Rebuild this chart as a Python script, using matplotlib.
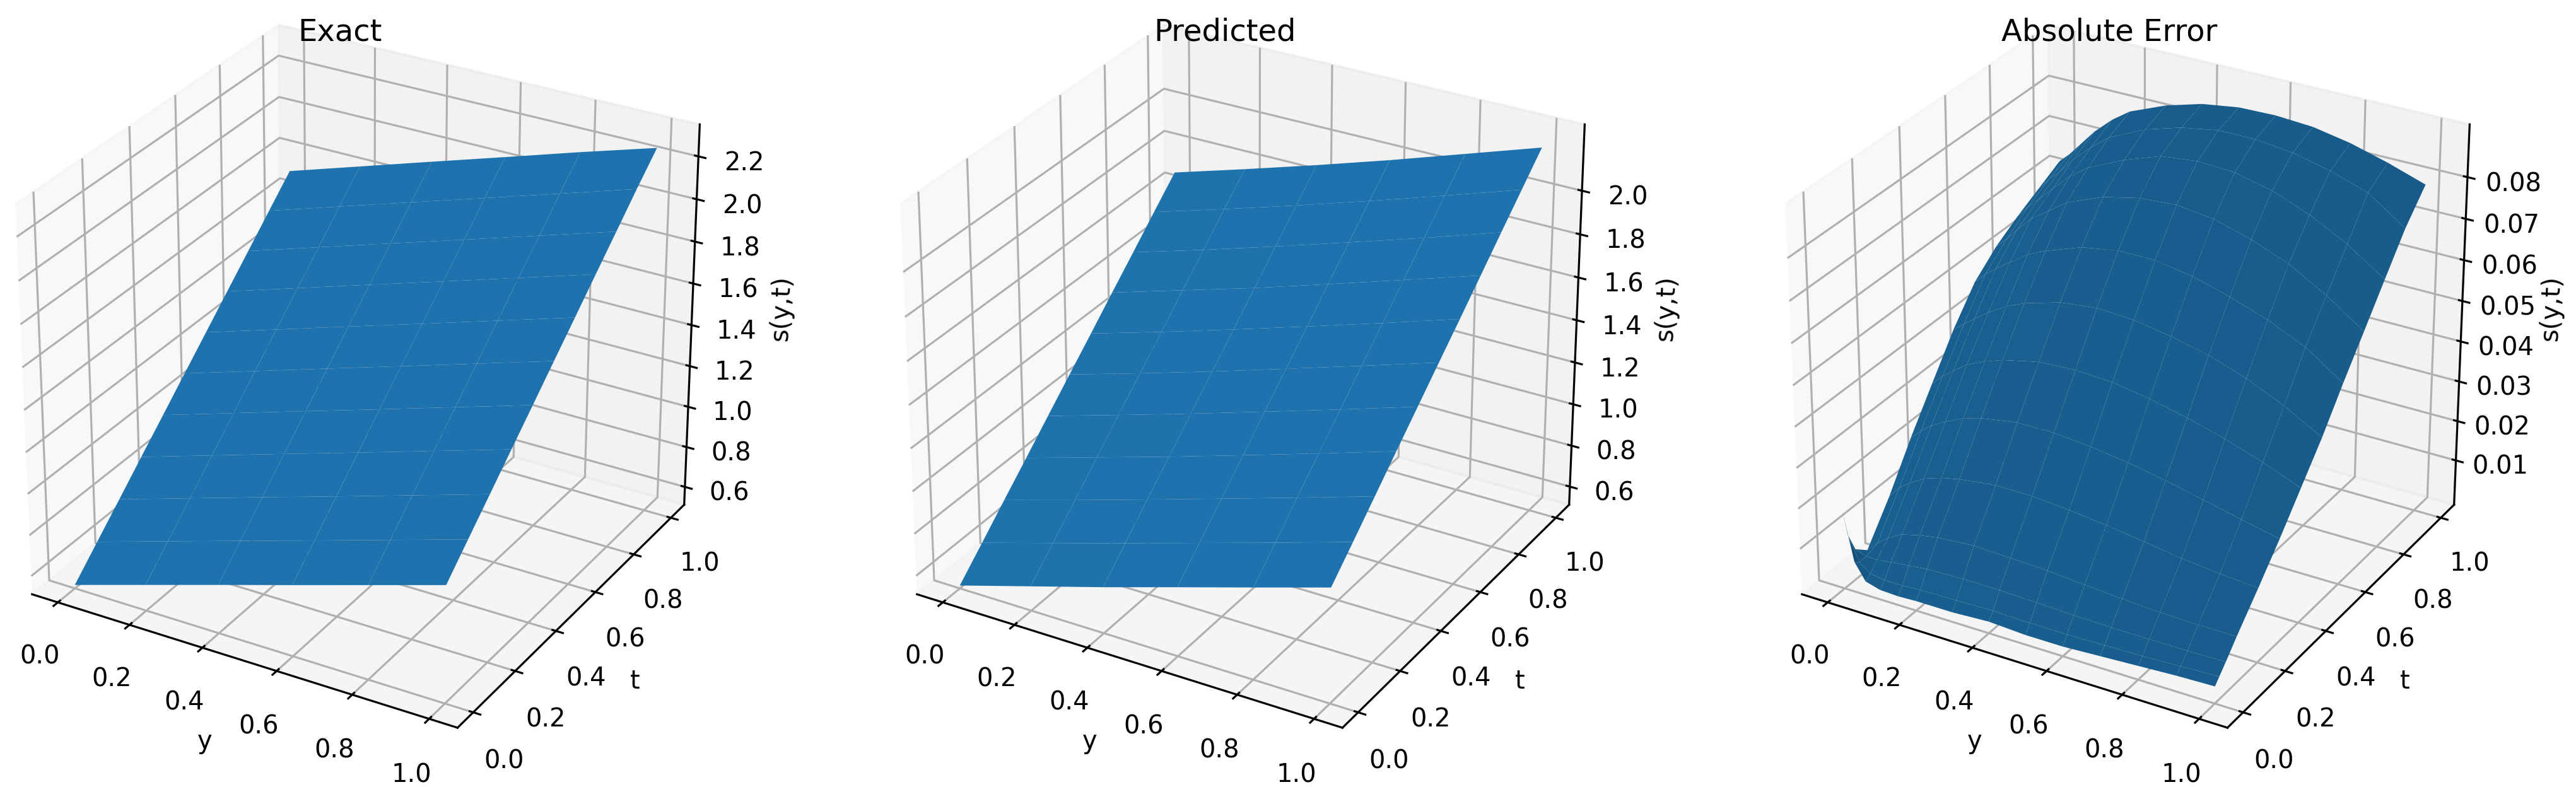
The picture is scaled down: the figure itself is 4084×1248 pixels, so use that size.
import numpy as np
import matplotlib
matplotlib.use('Agg')
import matplotlib.pyplot as plt

# узлы сетки для первых двух панелей
y_nodes = [0.0, 0.2, 0.4, 0.6, 0.8, 1.0]
t_nodes = [0.0, 0.1, 0.2, 0.3, 0.4, 0.5, 0.6, 0.7, 0.8, 0.9, 1.0]

exact_vals = [
    [0.527, 0.636, 0.745, 0.853, 0.962, 1.071],
    [0.647, 0.756, 0.865, 0.973, 1.082, 1.191],
    [0.766, 0.875, 0.984, 1.092, 1.201, 1.310],
    [0.886, 0.995, 1.104, 1.212, 1.321, 1.430],
    [1.005, 1.114, 1.223, 1.331, 1.440, 1.549],
    [1.125, 1.234, 1.343, 1.451, 1.560, 1.669],
    [1.244, 1.353, 1.462, 1.570, 1.679, 1.788],
    [1.364, 1.473, 1.582, 1.690, 1.799, 1.908],
    [1.483, 1.592, 1.701, 1.809, 1.918, 2.027],
    [1.603, 1.712, 1.821, 1.929, 2.038, 2.147],
    [1.722, 1.831, 1.940, 2.048, 2.157, 2.262],
]

pred_vals = [
    [0.525, 0.627, 0.729, 0.835, 0.940, 1.046],
    [0.640, 0.742, 0.845, 0.950, 1.055, 1.162],
    [0.757, 0.858, 0.962, 1.067, 1.173, 1.280],
    [0.872, 0.974, 1.076, 1.182, 1.289, 1.398],
    [0.989, 1.090, 1.193, 1.299, 1.406, 1.515],
    [1.105, 1.205, 1.308, 1.415, 1.523, 1.632],
    [1.220, 1.320, 1.424, 1.530, 1.638, 1.748],
    [1.337, 1.438, 1.539, 1.647, 1.756, 1.866],
    [1.452, 1.552, 1.656, 1.763, 1.871, 1.984],
    [1.569, 1.669, 1.772, 1.879, 1.989, 2.101],
    [1.684, 1.784, 1.887, 1.994, 2.106, 2.218],
]

# у ошибки узлы гуще возле угла, там узкий выброс
err_y_nodes = [0.0, 0.03, 0.06, 0.1, 0.15, 0.2, 0.3, 0.4, 0.5, 0.6, 0.7, 0.8, 0.9, 1.0]
err_t_nodes = [0.0, 0.02, 0.05, 0.1, 0.2, 0.3, 0.4, 0.5, 0.6, 0.7, 0.8, 0.9, 1.0]

err_vals = [
    [.0185, .0061, .0020, .0010, .0008, .0010, .0010, .0015, .0010, .0010, .0015, .0020, .0025, .0028],
    [.0112, .0051, .0030, .0025, .0025, .0028, .0030, .0032, .0030, .0030, .0032, .0034, .0038, .0042],
    [.0061, .0051, .0051, .0056, .0061, .0066, .0069, .0069, .0066, .0063, .0061, .0061, .0061, .0063],
    [.0035, .0061, .0082, .0102, .0113, .0121, .0128, .0125, .0121, .0114, .0107, .0102, .0100, .0100],
    [.0123, .0154, .0174, .0195, .0210, .0220, .0231, .0231, .0223, .0213, .0200, .0186, .0176, .0169],
    [.0225, .0251, .0272, .0292, .0313, .0326, .0341, .0341, .0333, .0320, .0303, .0282, .0261, .0241],
    [.0318, .0344, .0364, .0390, .0410, .0426, .0446, .0451, .0446, .0431, .0410, .0385, .0354, .0318],
    [.0410, .0431, .0451, .0477, .0503, .0523, .0549, .0559, .0554, .0539, .0518, .0487, .0446, .0395],
    [.0487, .0513, .0534, .0559, .0590, .0610, .0642, .0657, .0657, .0642, .0616, .0585, .0544, .0482],
    [.0535, .0560, .0590, .0626, .0657, .0688, .0724, .0744, .0750, .0739, .0713, .0678, .0626, .0564],
    [.0570, .0600, .0625, .0660, .0703, .0734, .0775, .0806, .0816, .0811, .0790, .0755, .0708, .0647],
    [.0600, .0630, .0655, .0695, .0735, .0770, .0811, .0837, .0852, .0852, .0842, .0821, .0791, .0729],
    [.0630, .0655, .0685, .0725, .0765, .0796, .0832, .0857, .0870, .0872, .0866, .0849, .0824, .0794],
]

titles = ['Exact', 'Predicted', 'Absolute Error']
z_limits = [(0.51, 2.348), (0.511, 2.30), (-0.0014, 0.0925)]
z_ticks = [
    [0.6, 0.8, 1.0, 1.2, 1.4, 1.6, 1.8, 2.0, 2.2],
    [0.6, 0.8, 1.0, 1.2, 1.4, 1.6, 1.8, 2.0],
    [0.01, 0.02, 0.03, 0.04, 0.05, 0.06, 0.07, 0.08],
]

W, H = 4084, 1248
fig = plt.figure(figsize=(W / 288, H / 288), dpi=288)

panels = [
    (y_nodes, t_nodes, exact_vals),
    (y_nodes, t_nodes, pred_vals),
    (err_y_nodes, err_t_nodes, err_vals),
]

side = 1259
for i, (ys, ts, zs) in enumerate(panels):
    left = (560 + i * 1403 - side / 2) / W
    bottom = (H - 589 - side / 2) / H
    ax = fig.add_axes([left, bottom, side / W, side / H], projection='3d')
    ax.patch.set_visible(False)
    ax.view_init(elev=28.3, azim=-60)
    ax.set_box_aspect((4, 4, 3.58))
    Y, T = np.meshgrid(ys, ts)
    ax.plot_surface(Y, T, np.array(zs), color='#1f77b4')
    ax.set_zlim(z_limits[i][0], z_limits[i][1], view_margin=0)
    ax.set_zticks(z_ticks[i])
    ax.set_xlabel('y', labelpad=1)
    ax.set_ylabel('t', labelpad=2)
    ax.set_zlabel('s(y,t)', labelpad=2)
    ax.set_title(titles[i], fontsize=12, x=0.483, y=0.9965, pad=0)

fig.savefig('out.png', dpi=288)
